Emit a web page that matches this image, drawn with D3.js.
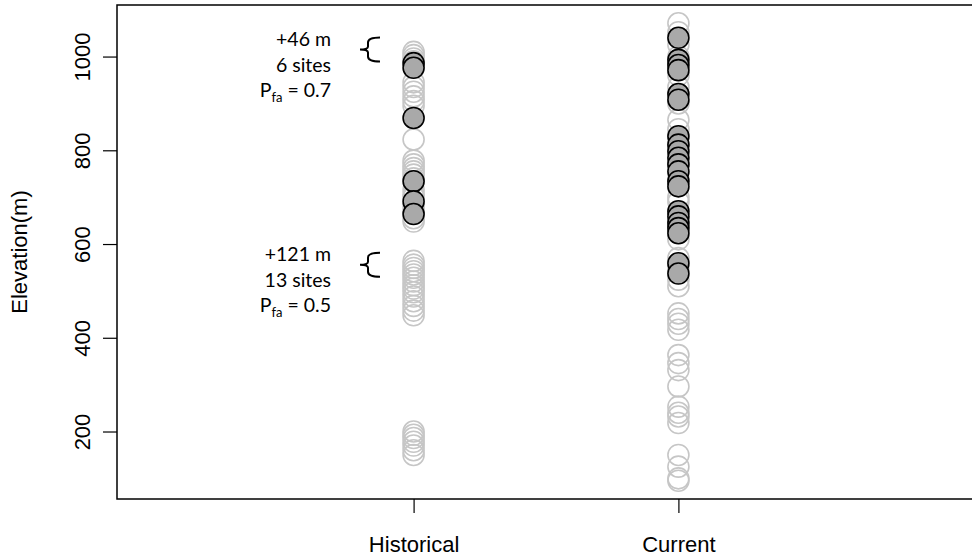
<!DOCTYPE html>
<html>
<head>
<meta charset="utf-8">
<script src="https://cdn.jsdelivr.net/npm/d3@7"></script>
<style>
    body { margin: 0; background: #fff; }
    svg { display: block; }
    .axis text { font-family: "Liberation Sans", Arial, sans-serif; font-size: 22px; fill: #000; }
    .note text { font-family: Lato, "Open Sans", sans-serif; font-size: 19.5px; fill: #000; }
</style>
</head>
<body>
<div id="chart"></div>
<script>
var categories = ['Historical', 'Current'];
var yTicks = [200, 400, 600, 800, 1000];

// elevations (m) of surveyed sites, open = absent, filled = present
var historicalOpen = [1010, 1003, 996, 990, 945, 935, 925, 915, 905, 895, 823, 778, 770, 762, 755, 748, 740,
    716, 705, 700, 680, 670, 655, 648,
    564, 556, 549, 542, 535, 528, 520, 512, 505, 497, 488, 478, 468, 458, 448,
    200, 193, 186, 178, 170, 160, 150];
var historicalFilled = [986, 976, 869, 734, 691, 664];
var currentOpen = [1071, 1052, 1025, 1000, 960, 935, 900, 865, 845, 815, 770, 740, 700, 690, 610, 570,
    548, 524, 510, 452, 440, 430, 417, 363, 346, 331, 296, 253, 240, 232, 218, 150, 125, 100, 95];
var currentFilled = [1040, 993, 982, 971, 920, 908, 830, 812, 798, 784, 770, 755, 734, 723,
    670, 659, 645, 634, 623, 559, 537];

var noteGain = ['+46 m', '+121 m'];
var noteSites = ['6 sites', '13 sites'];
var notePfa = ['0.7', '0.5'];
var noteAt = [1015, 556];   // elevation the brace points at

var width = 972, height = 557,
    margin = {top: 5, right: -3, bottom: 58, left: 117};

var svg = d3.select('#chart').append('svg')
    .attr('width', width)
    .attr('height', height);

var x = d3.scaleLinear().domain([-0.12, 3.12]).range([margin.left, width - margin.right]);
var y = d3.scaleLinear().domain([56, 1110]).range([height - margin.bottom, margin.top]);

var xpos = function(i){ return x(i + 1); };

// open circles first, filled ones on top
var series = [
    {col: 0, vals: historicalOpen, filled: false},
    {col: 1, vals: currentOpen, filled: false},
    {col: 0, vals: historicalFilled, filled: true},
    {col: 1, vals: currentFilled, filled: true}
];

series.forEach(function(s){
    svg.append('g').selectAll('circle')
        .data(s.vals)
        .enter().append('circle')
        .attr('cx', xpos(s.col))
        .attr('cy', function(d){ return y(d); })
        .attr('r', 10.5)
        .attr('fill', s.filled ? '#a9a9a9' : 'none')
        .attr('stroke', s.filled ? '#000' : '#c6c6c6')
        .attr('stroke-width', 1.6);
});

// box
svg.append('rect')
    .attr('x', margin.left)
    .attr('y', margin.top)
    .attr('width', width - margin.right - margin.left)
    .attr('height', height - margin.bottom - margin.top)
    .attr('fill', 'none')
    .attr('stroke', '#000')
    .attr('stroke-width', 1.5);

// y axis
var yAxis = d3.axisLeft(y).tickValues(yTicks).tickSize(14).tickPadding(0).tickFormat(d3.format('d'));
var gy = svg.append('g')
    .attr('class', 'axis')
    .attr('transform', 'translate(' + margin.left + ',0)')
    .call(yAxis);
gy.select('.domain').remove();
gy.selectAll('line').attr('stroke-width', 1.2);
gy.selectAll('text')
    .attr('x', 0)
    .attr('dy', 0)
    .attr('text-anchor', 'middle')
    .attr('transform', 'translate(-35,0) rotate(-90)')
    .attr('dominant-baseline', 'central');

// x axis
var xAxis = d3.axisBottom(x).tickValues([1, 2]).tickSize(14).tickPadding(0)
    .tickFormat(function(d){ return categories[d - 1]; });
var gx = svg.append('g')
    .attr('class', 'axis')
    .attr('transform', 'translate(0,' + (height - margin.bottom) + ')')
    .call(xAxis);
gx.select('.domain').remove();
gx.selectAll('line').attr('stroke-width', 1.2);
gx.selectAll('text').attr('dy', 0).attr('y', 53);

svg.append('text')
    .attr('transform', 'translate(19,' + ((margin.top + height - margin.bottom) / 2) + ') rotate(-90)')
    .attr('text-anchor', 'middle')
    .attr('dominant-baseline', 'central')
    .style('font-family', '"Liberation Sans", Arial, sans-serif')
    .style('font-size', '22px')
    .text('Elevation(m)');

// annotations with braces
noteGain.forEach(function(g, i){
    var cy = y(noteAt[i]);
    var note = svg.append('g').attr('class', 'note');
    var tx = 331;
    note.append('text').attr('x', tx).attr('y', cy - 4).attr('text-anchor', 'end').text(g);
    note.append('text').attr('x', tx).attr('y', cy + 22).attr('text-anchor', 'end').text(noteSites[i]);
    var p = note.append('text').attr('x', tx).attr('y', cy + 47).attr('text-anchor', 'end');
    p.append('tspan').text('P');
    p.append('tspan').attr('font-size', '13px').attr('dy', 5).text('fa');
    p.append('tspan').attr('dy', -5).text(' = ' + notePfa[i]);

    var bx = 368, h = 12;
    note.append('path')
        .attr('d', 'M' + (bx + 12) + ',' + (cy - h) +
            ' Q' + bx + ',' + (cy - h) + ' ' + bx + ',' + (cy - h + 5) +
            ' L' + bx + ',' + (cy - 3) +
            ' Q' + bx + ',' + cy + ' ' + (bx - 8) + ',' + cy +
            ' Q' + bx + ',' + cy + ' ' + bx + ',' + (cy + 3) +
            ' L' + bx + ',' + (cy + h - 5) +
            ' Q' + bx + ',' + (cy + h) + ' ' + (bx + 12) + ',' + (cy + h))
        .attr('fill', 'none')
        .attr('stroke', '#000')
        .attr('stroke-width', 2);
});
</script>
</body>
</html>
